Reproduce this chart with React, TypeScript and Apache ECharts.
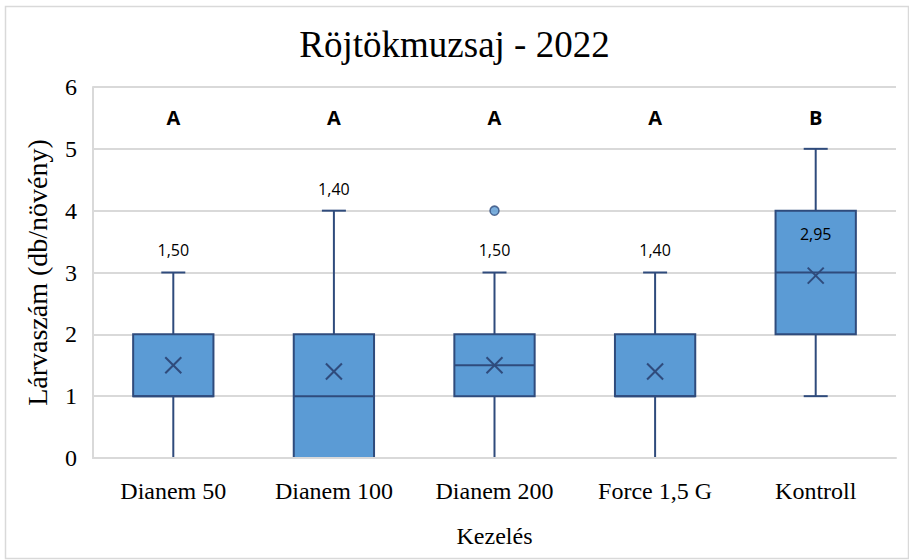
import React, { useEffect, useRef } from "react";
import * as echarts from "echarts";

const categories = ["Dianem 50", "Dianem 100", "Dianem 200", "Force 1,5 G", "Kontroll"];
const mins = [0, 0, 0, 0, 1];
const q1s = [1, 0, 1, 1, 2];
const medians = [1, 1, 1.5, 1, 3];
const q3s = [2, 2, 2, 2, 4];
const maxs = [3, 4, 3, 3, 5];
const means = [1.5, 1.4, 1.5, 1.4, 2.95];
const meanLabels = ["1,50", "1,40", "1,50", "1,40", "2,95"];
const meanLabelAt = [3.37, 4.35, 3.37, 3.37, 3.62];
const letters = ["A", "A", "A", "A", "B"];
const letterAt = 5.5;
const outliers = [[2, 4]];

const NAVY = "#2F4B7C";
const FILL = "#5B9BD5";
const GRID = "#D9D9D9";
const SERIF = "'Liberation Serif', 'Times New Roman', serif";
const SANS = "'Open Sans', 'Noto Sans', sans-serif";

export default function App() {
  const ref = useRef<HTMLDivElement>(null);
  useEffect(() => {
    document.body.style.margin = "0";
    if (!ref.current) return;
    const chart = echarts.init(ref.current, undefined, { renderer: "svg" });
    const boxData = categories.map((_, i) => [i, mins[i], q1s[i], medians[i], q3s[i], maxs[i], means[i]]);
    chart.setOption({
      animation: false,
      backgroundColor: "#fff",
      title: {
        text: "Röjtökmuzsaj - 2022",
        left: "center",
        top: 21,
        textStyle: { fontFamily: SERIF, fontSize: 37, fontWeight: "normal", color: "#000" },
      },
      graphic: [
        {
          type: "rect",
          left: 3,
          top: 4,
          shape: { width: 903, height: 552 },
          style: { fill: "none", stroke: GRID, lineWidth: 1.5 },
          silent: true,
        },
      ],
      grid: { left: 93, right: 13, top: 87, bottom: 102 },
      xAxis: {
        type: "category",
        data: categories,
        z: 10,
        axisTick: { show: false },
        axisLine: { show: true, lineStyle: { color: GRID, width: 2 } },
        axisLabel: { fontFamily: SERIF, fontSize: 24, color: "#000", margin: 21 },
        name: "Kezelés",
        nameLocation: "middle",
        nameGap: 66,
        nameTextStyle: { fontFamily: SERIF, fontSize: 24, color: "#000" },
      },
      yAxis: {
        type: "value",
        min: 0,
        max: 6,
        interval: 1,
        axisLine: { show: true, lineStyle: { color: GRID, width: 2 } },
        axisTick: { show: false },
        splitLine: { show: true, lineStyle: { color: GRID, width: 2 } },
        axisLabel: { fontFamily: SERIF, fontSize: 24, color: "#000", margin: 16 },
        name: "Lárvaszám (db/növény)",
        nameLocation: "middle",
        nameGap: 42,
        nameTextStyle: { fontFamily: SERIF, fontSize: 28, color: "#000" },
      },
      series: [
        {
          type: "custom",
          data: boxData,
          encode: { x: 0, y: [1, 2, 3, 4, 5] },
          renderItem: (params: any, api: any) => {
            const i = params.dataIndex;
            const x = api.coord([i, 0])[0];
            const y = (v: number) => api.coord([i, v])[1];
            const bw = api.size([1, 0])[0] * 0.5;
            const cap = 12;
            const ln = (x1: number, y1: number, x2: number, y2: number) => ({
              type: "line",
              shape: { x1, y1, x2, y2 },
              style: { stroke: NAVY, lineWidth: 2 },
            });
            const my = y(means[i]);
            const m = 8;
            return {
              type: "group",
              children: [
                ln(x, y(maxs[i]), x, y(q3s[i])),
                ln(x, y(q1s[i]), x, y(mins[i])),
                ln(x - cap, y(maxs[i]), x + cap, y(maxs[i])),
                ln(x - cap, y(mins[i]), x + cap, y(mins[i])),
                {
                  type: "rect",
                  shape: { x: x - bw / 2, y: y(q3s[i]), width: bw, height: y(q1s[i]) - y(q3s[i]) },
                  style: { fill: FILL, stroke: NAVY, lineWidth: 2 },
                },
                ln(x - bw / 2, y(medians[i]), x + bw / 2, y(medians[i])),
                ln(x - m, my - m, x + m, my + m),
                ln(x - m, my + m, x + m, my - m),
                {
                  type: "text",
                  x,
                  y: y(meanLabelAt[i]),
                  style: {
                    text: meanLabels[i],
                    fontFamily: SANS,
                    fontSize: 16,
                    fill: "#000",
                    align: "center",
                    verticalAlign: "middle",
                  },
                },
                {
                  type: "text",
                  x,
                  y: y(letterAt),
                  style: {
                    text: letters[i],
                    fontFamily: SANS,
                    fontSize: 20,
                    fontWeight: "bold",
                    fill: "#000",
                    align: "center",
                    verticalAlign: "middle",
                  },
                },
              ],
            };
          },
        },
        {
          type: "scatter",
          data: outliers,
          symbol: "circle",
          symbolSize: 9,
          itemStyle: { color: FILL, borderColor: NAVY, borderWidth: 1.5 },
          z: 5,
        },
      ],
    });
    return () => chart.dispose();
  }, []);
  return <div ref={ref} style={{ width: 909, height: 560 }} />;
}
